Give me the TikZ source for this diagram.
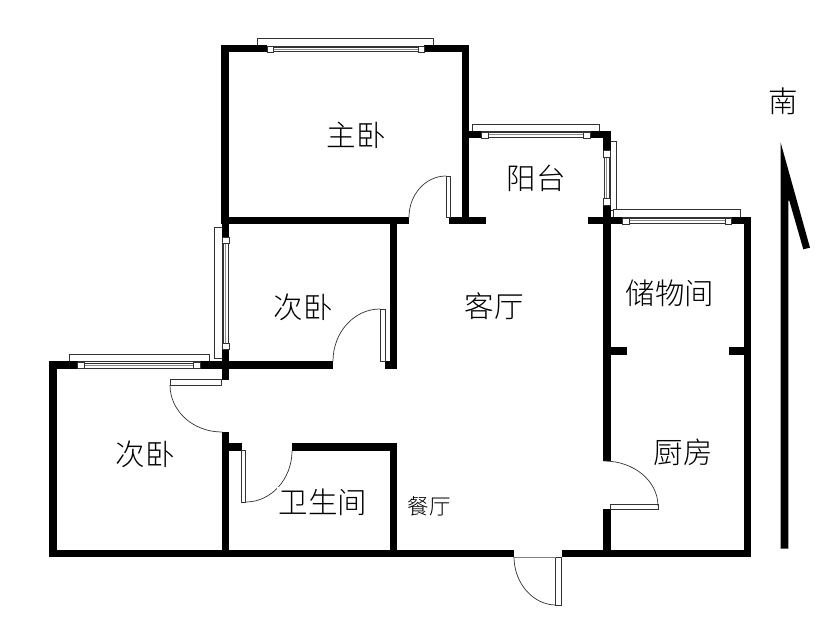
\documentclass[tikz,border=0pt]{standalone}
\usepackage{fontspec}
\newfontfamily\cjk{Noto Sans CJK SC Light}
\tikzset{
  x=1pt,y=-1pt,
  wallpart/.style={fill=black,draw=none},
  winframe/.style={draw=black!80,line width=0.8pt,fill=white},
  winpost/.style={draw=black!80,line width=0.6pt,fill=white},
  glass/.style={draw=black!80,line width=0.7pt,fill=white},
  glassmid/.style={draw=black!45,line width=0.8pt},
  doorleaf/.style={draw=black!80,line width=0.8pt,fill=white},
  swing/.style={draw=black!80,line width=0.7pt},
  room/.style={font=\cjk\fontsize{29.5}{29.5}\selectfont,text=black,inner sep=0pt},
}
\newcommand{\wl}[4]{\fill[wallpart] (#1,#2) rectangle (#3,#4);}
\begin{document}
\begin{tikzpicture}
\useasboundingbox[fill=white] (0,0) rectangle (829,618);
% window frames outside the walls
\draw[winframe] (257.3,38.3) rectangle (433.3,46);
\draw[winframe] (472.3,124.3) rectangle (599.3,131);
\draw[winframe] (610,141) rectangle (616.7,210);
\draw[winframe] (613.3,209.5) rectangle (740,217);
\draw[winframe] (214,227) rectangle (222,358);
\draw[winframe] (69.3,354) rectangle (209.3,361.5);
% master bedroom
\wl{221.3}{45}{229.3}{224}
\wl{221.3}{45}{267}{52.5}
\wl{424}{45}{469.3}{52.5}
\wl{461.7}{45}{469.3}{224}
\wl{221.3}{217}{409}{224}
\wl{449.3}{217}{486}{224}
% balcony
\wl{461.7}{130.7}{480.7}{138.3}
\wl{590.7}{130.7}{610.7}{138.3}
\wl{602.7}{130.7}{610.7}{151}
\wl{602.7}{205}{610.7}{461}
\wl{588.3}{216.7}{622.3}{224.3}
% storage and kitchen
\wl{731.7}{216.7}{750.7}{224.3}
\wl{744}{216.7}{750.7}{557}
\wl{610}{347.3}{627.3}{354.7}
\wl{729.3}{347.3}{744}{354.7}
\wl{602.7}{509}{610.7}{557}
% second bedroom
\wl{221.7}{224}{229.3}{237}
\wl{221.7}{349}{229.3}{380}
\wl{221.7}{361}{333}{369}
\wl{390}{224}{397}{369}
\wl{385}{361}{397}{369}
% left bedroom
\wl{49.3}{361}{77.7}{369}
\wl{200.3}{361}{222}{369}
\wl{49.3}{361}{57.3}{557}
\wl{221.7}{431.7}{229.3}{557}
\wl{49.3}{550}{514}{557.3}
\wl{561.7}{550}{750.7}{557.3}
% bathroom
\wl{229.3}{443.3}{241.7}{450.7}
\wl{292.3}{443.3}{396.7}{450.7}
\wl{390}{443.3}{396.7}{550}
% glazing
\draw[glass] (273,47.3) rectangle (418,51.8);
\draw[glassmid] (273,49.5) -- (418,49.5);
\draw[glass] (488,132.7) rectangle (583.3,137);
\draw[glassmid] (488,134.8) -- (583.3,134.8);
\draw[glass] (604,157) rectangle (609,198.3);
\draw[glassmid] (606.5,157) -- (606.5,198.3);
\draw[glass] (629,218.3) rectangle (725,223.3);
\draw[glassmid] (629,220.8) -- (725,220.8);
\draw[glass] (223.3,243) rectangle (228,343);
\draw[glassmid] (225.6,243) -- (225.6,343);
\draw[glass] (84.7,363.3) rectangle (193.3,368);
\draw[glassmid] (84.7,365.6) -- (193.3,365.6);
% window posts
\draw[winpost] (267,46) rectangle (273,52);
\draw[winpost] (418,46) rectangle (424,52);
\draw[winpost] (481,132) rectangle (488,138);
\draw[winpost] (583.3,132) rectangle (590.7,138);
\draw[winpost] (603.5,150.7) rectangle (609.8,157);
\draw[winpost] (603.5,198.3) rectangle (609.8,205);
\draw[winpost] (622.3,218) rectangle (629,224);
\draw[winpost] (725,218) rectangle (731.7,224);
\draw[winpost] (222.5,237) rectangle (228.8,243);
\draw[winpost] (222.5,343) rectangle (228.8,349);
\draw[winpost] (77.7,362) rectangle (84.7,368.5);
\draw[winpost] (193.3,362) rectangle (200.3,368.5);
% door leaves
\draw[doorleaf] (446,176) rectangle (450,217);
\draw[doorleaf] (380,309) rectangle (385,361);
\draw[doorleaf] (170,379.5) rectangle (221.7,385);
\draw[doorleaf] (241.7,450.7) rectangle (245.7,502.3);
\draw[doorleaf] (555.7,557) rectangle (561.7,605);
\draw[doorleaf] (610,504) rectangle (658.3,509.3);
% door swings
\draw[swing] (409,217) .. controls (409,194.5) and (425.6,176) .. (446,176);
\draw[swing] (333,361) .. controls (333,332.4) and (354,309) .. (380,309);
\draw[swing] (170,385) .. controls (170,411) and (193,432) .. (222,432);
\draw[swing] (246,502) .. controls (271,502) and (292,479) .. (292,451);
\draw[swing] (514,557) .. controls (514,583) and (533,605) .. (556,605);
\draw[swing] (604,461) .. controls (634,461) and (658,481) .. (658,506);
\draw[swing,draw=black!50] (514,557.5) -- (556,557.5);
% north arrow
\fill[black] (780.7,142.7) -- (810,247.7) -- (803.3,249.3) -- (789.3,200.7) -- (788.3,200.7) -- (788.3,548.5) -- (780.7,548.5) -- cycle;
% labels
\node[room] (zhuwo) at (356,135) {主卧};
\node[room] (yangtai) at (536,178) {阳台};
\node[room] (ciwoa) at (303,307) {次卧};
\node[room] (keting) at (494,306) {客厅};
\node[room] (chuwu) at (670,293) {储物间};
\node[room] (ciwob) at (145,454) {次卧};
\node[room,fill=white,inner sep=2pt] (weisheng) at (323,502) {卫生间};
\node[room] (chufang) at (683,452) {厨房};
\node[room,font=\cjk\fontsize{21.5}{21.5}\selectfont] (canting) at (429,506) {餐厅};
\node[room] (nan) at (783,101) {南};
\end{tikzpicture}
\end{document}
